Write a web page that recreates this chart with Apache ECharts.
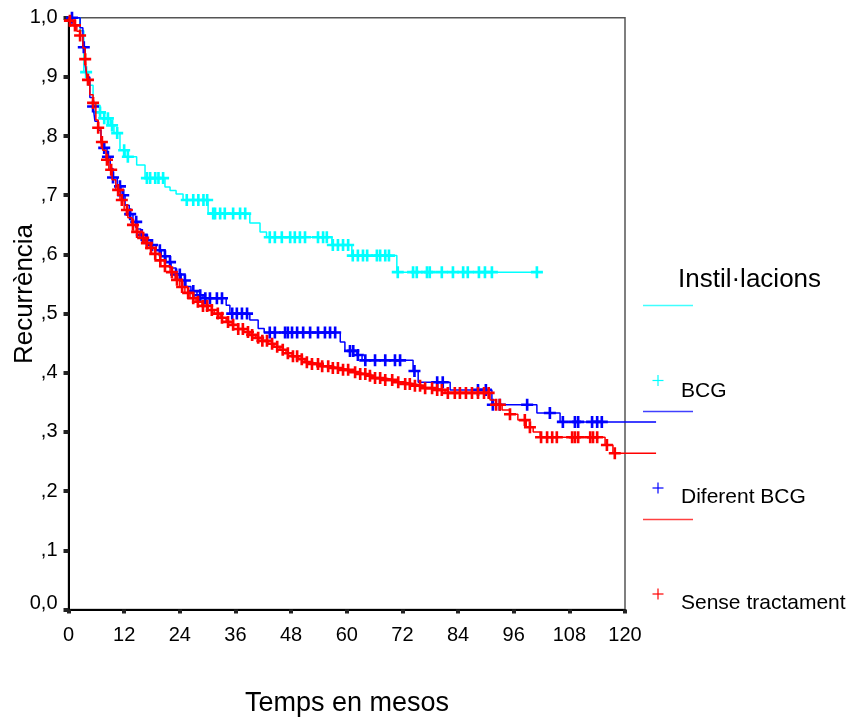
<!DOCTYPE html>
<html><head><meta charset="utf-8">
<script src="https://cdn.jsdelivr.net/npm/echarts/dist/echarts.min.js"></script>
<style>html,body{margin:0;padding:0;background:#fff}#c{width:854px;height:720px}</style>
</head><body><div id="c"></div>
<script>
// ---- Data (months, cumulative proportion) ----
const xTickValues = [0, 12, 24, 36, 48, 60, 72, 84, 96, 108, 120];
const seriesNames = ['BCG', 'Diferent BCG', 'Sense tractament'];
const legendTitle = 'Instil·lacions';

const bcgTime = [0, 2.5, 3.3, 4.2, 5.3, 6.8, 7.7, 9.0, 9.8, 11.1, 12.2, 14.7, 16.5, 20.8, 21.9, 23.2, 24.7, 30.1, 39.1, 41.3, 42.7, 56.8, 61.1, 70.8, 102.2];
const bcgSurv = [1.0, 0.978, 0.908, 0.886, 0.852, 0.84, 0.83, 0.818, 0.805, 0.776, 0.765, 0.751, 0.729, 0.714, 0.708, 0.702, 0.692, 0.669, 0.653, 0.638, 0.629, 0.616, 0.598, 0.57, 0.57];
const bcgCensored = [3.8, 6.8, 7.7, 8.5, 9.4, 10.5, 12.0, 12.8, 16.9, 17.6, 18.7, 19.4, 20.4, 25.5, 26.9, 28.0, 29.1, 29.9, 31.2, 31.6, 32.7, 33.7, 35.5, 37.0, 38.1, 43.4, 44.5, 46.0, 47.8, 48.8, 49.9, 51.0, 53.8, 54.9, 55.7, 57.0, 58.1, 59.2, 60.3, 61.3, 62.4, 63.5, 64.4, 66.5, 67.2, 68.3, 69.1, 71.0, 74.3, 75.1, 77.3, 77.9, 80.5, 82.9, 85.1, 86.1, 88.5, 89.8, 91.3, 101.0];

const difTime = [0, 2.5, 3.1, 3.6, 4.0, 4.6, 5.3, 5.7, 6.4, 7.0, 7.7, 8.3, 9.0, 9.6, 10.5, 11.3, 12.2, 13.1, 13.9, 14.8, 15.6, 16.7, 17.8, 18.9, 20.0, 21.0, 22.1, 23.2, 24.3, 25.3, 26.4, 27.7, 29.0, 34.0, 34.8, 39.1, 40.9, 42.2, 58.6, 59.6, 62.2, 63.3, 74.3, 75.4, 82.3, 91.3, 101.0, 106.0, 126.7];
const difSurv = [1, 0.983, 0.95, 0.92, 0.90, 0.865, 0.85, 0.825, 0.81, 0.79, 0.78, 0.765, 0.745, 0.73, 0.715, 0.70, 0.683, 0.668, 0.655, 0.643, 0.633, 0.624, 0.616, 0.607, 0.597, 0.587, 0.577, 0.566, 0.556, 0.546, 0.538, 0.531, 0.526, 0.514, 0.50, 0.489, 0.475, 0.468, 0.452, 0.437, 0.43, 0.421, 0.403, 0.384, 0.371, 0.346, 0.332, 0.317, 0.317];
const difCensored = [0.75, 3.3, 5.3, 7.7, 8.5, 9.6, 11.1, 11.8, 13.3, 14.6, 15.8, 16.9, 18.0, 19.7, 20.8, 21.9, 23.2, 24.0, 25.1, 26.9, 28.4, 29.5, 30.5, 32.0, 33.1, 35.3, 36.3, 37.4, 38.5, 43.4, 44.5, 46.7, 47.3, 48.2, 49.3, 50.6, 52.1, 53.8, 55.3, 56.4, 57.5, 60.7, 61.4, 62.4, 64.0, 66.1, 68.3, 70.4, 71.5, 74.6, 79.5, 80.7, 88.3, 90.0, 91.5, 93.0, 98.9, 103.8, 106.6, 109.2, 109.9, 112.9, 114.0, 115.0];

const noTime = [0, 0.3, 1.0, 1.8, 2.5, 3.1, 3.6, 4.0, 4.6, 5.3, 5.9, 6.4, 7.0, 7.4, 8.1, 8.7, 9.4, 10.2, 11.1, 12.0, 12.8, 13.7, 14.6, 15.4, 16.5, 17.6, 18.7, 19.7, 20.8, 21.9, 23.0, 24.0, 25.1, 26.2, 27.5, 28.8, 30.1, 31.4, 32.7, 34.0, 35.3, 36.6, 37.8, 39.1, 40.4, 41.7, 43.0, 44.3, 45.6, 46.9, 48.2, 49.5, 51.0, 52.5, 54.2, 56.4, 58.6, 60.7, 62.4, 64.2, 66.1, 68.3, 70.4, 72.6, 74.7, 76.9, 79.0, 81.2, 90.9, 92.2, 93.5, 95.2, 96.9, 98.7, 100.2, 101.7, 115.7, 117.4, 126.7];
const noSurv = [1, 0.995, 0.987, 0.977, 0.97, 0.949, 0.93, 0.895, 0.87, 0.856, 0.827, 0.814, 0.79, 0.776, 0.76, 0.743, 0.726, 0.709, 0.692, 0.675, 0.662, 0.65, 0.638, 0.628, 0.619, 0.611, 0.601, 0.59, 0.58, 0.57, 0.557, 0.545, 0.535, 0.526, 0.52, 0.513, 0.506, 0.5, 0.493, 0.486, 0.481, 0.474, 0.469, 0.464, 0.459, 0.454, 0.449, 0.444, 0.439, 0.433, 0.428, 0.423, 0.418, 0.415, 0.411, 0.408, 0.405, 0.401, 0.398, 0.395, 0.391, 0.388, 0.384, 0.381, 0.378, 0.374, 0.371, 0.366, 0.354, 0.346, 0.337, 0.33, 0.32, 0.308, 0.3, 0.291, 0.278, 0.264, 0.264];
const noCensored = [0.3, 1.4, 2.5, 3.6, 4.2, 5.3, 6.4, 7.2, 8.3, 9.2, 10.7, 11.5, 12.6, 13.9, 14.8, 16.1, 16.9, 17.8, 18.7, 19.8, 20.8, 22.3, 23.4, 24.5, 25.8, 26.9, 27.9, 29.0, 29.9, 30.9, 32.2, 33.1, 34.4, 35.5, 36.6, 37.6, 38.7, 39.6, 40.9, 41.8, 42.8, 43.9, 45.0, 46.2, 47.3, 48.4, 49.3, 50.3, 51.4, 52.5, 53.8, 54.7, 56.0, 57.0, 58.1, 59.2, 60.3, 61.8, 62.9, 64.0, 65.0, 66.1, 67.2, 68.3, 69.8, 71.1, 72.6, 73.6, 74.7, 75.8, 76.9, 78.4, 79.5, 80.5, 81.8, 83.3, 84.4, 85.7, 87.0, 88.3, 89.6, 90.6, 92.2, 93.0, 95.2, 98.4, 99.5, 101.9, 103.2, 104.3, 105.3, 108.6, 109.2, 109.9, 112.5, 113.1, 114.0, 116.1, 117.8];

// ---- helpers ----
function zip(t, s) { return t.map((v, i) => [v, s[i]]); }
function stepAt(t, s, x) { let v = s[0]; for (let i = 0; i < t.length; i++) { if (t[i] <= x) v = s[i]; else break; } return v; }
function censorPoints(t, s, c) { return c.map(x => [x, stepAt(t, s, x)]); }

const COLORS = ['#00ffff', '#0000ff', '#ff0000'];
const FONT = '"Liberation Sans", Arial, sans-serif';
const cross = 'path://M3.9,0H6.1V3.9H10V6.1H6.1V10H3.9V6.1H0V3.9H3.9Z';

// layout: plot frame spans 0..120 months; curves may run past the frame
const GL = 68.5, GT = 17.7, GB = 110.5, PX_PER_MONTH = 4.6375;
const X_MAX_FRAME = 120, X_MAX_DATA = 130;

const curves = [
  { t: bcgTime, s: bcgSurv, c: bcgCensored },
  { t: difTime, s: difSurv, c: difCensored },
  { t: noTime, s: noSurv, c: noCensored }
];

const series = [];
curves.forEach((cv, i) => {
  series.push({
    type: 'line', name: seriesNames[i], data: zip(cv.t, cv.s), step: 'end',
    xAxisIndex: 1, yAxisIndex: 1,
    symbol: 'none', clip: false, z: 2 + i * 2,
    lineStyle: { color: COLORS[i], width: 1.5 }
  });
  series.push({
    type: 'scatter', name: seriesNames[i] + ' censurat', data: censorPoints(cv.t, cv.s, cv.c),
    xAxisIndex: 1, yAxisIndex: 1,
    symbol: cross, symbolSize: 12, clip: false, z: 3 + i * 2,
    itemStyle: { color: COLORS[i], opacity: 1 }
  });
});

function plusMark(cx, cy, color) {
  return [
    { type: 'line', shape: { x1: cx - 5.5, y1: cy, x2: cx + 5.5, y2: cy }, style: { stroke: color, lineWidth: 1.2 } },
    { type: 'line', shape: { x1: cx, y1: cy - 5.5, x2: cx, y2: cy + 5.5 }, style: { stroke: color, lineWidth: 1.2 } }
  ];
}
const legendRows = [
  { lineY: 305.5, plusY: 380.5, textY: 391 },
  { lineY: 411.5, plusY: 488, textY: 497 },
  { lineY: 519.5, plusY: 594, textY: 603 }
];
const graphic = [
  { type: 'text', x: 678, y: 280, style: { text: legendTitle, font: '26px ' + FONT, fill: '#000', textVerticalAlign: 'middle' } },
  { type: 'text', x: 25, y: 294, rotation: Math.PI / 2, style: { text: 'Recurrència', font: '26px ' + FONT, fill: '#000', textAlign: 'center', textVerticalAlign: 'middle' } },
  { type: 'text', x: 347, y: 704, style: { text: 'Temps en mesos', font: '27px ' + FONT, fill: '#000', textAlign: 'center', textVerticalAlign: 'middle' } }
];
legendRows.forEach((r, i) => {
  graphic.push({ type: 'line', shape: { x1: 643, y1: r.lineY, x2: 693, y2: r.lineY }, style: { stroke: COLORS[i], lineWidth: 1.3, opacity: 0.75 } });
  plusMark(658, r.plusY, COLORS[i]).forEach(g => graphic.push(g));
  graphic.push({ type: 'text', x: 681, y: r.textY, style: { text: seriesNames[i], font: '21px ' + FONT, fill: '#000', textVerticalAlign: 'middle' } });
});

const chart = echarts.init(document.getElementById('c'), null, { renderer: 'canvas' });
chart.setOption({
  animation: false,
  backgroundColor: '#fff',
  grid: [
    { left: GL, width: X_MAX_FRAME * PX_PER_MONTH, top: GT, bottom: GB, show: true, borderColor: '#555', borderWidth: 1.5, backgroundColor: 'transparent' },
    { left: GL, width: X_MAX_DATA * PX_PER_MONTH, top: GT, bottom: GB, show: false }
  ],
  xAxis: [{
    type: 'value', gridIndex: 0, min: 0, max: X_MAX_FRAME, interval: 12,
    axisLine: { show: true, onZero: false, lineStyle: { color: '#000', width: 2 } },
    axisTick: { show: true, length: 4, lineStyle: { color: '#222', width: 4 } },
    axisLabel: { color: '#000', fontSize: 20, fontFamily: FONT, margin: 16, formatter: v => String(v) },
    splitLine: { show: false }
  }, {
    type: 'value', gridIndex: 1, min: 0, max: X_MAX_DATA, show: false, splitLine: { show: false }
  }],
  yAxis: [{
    type: 'value', gridIndex: 0, min: 0, max: 1, interval: 0.1,
    axisLine: { show: true, onZero: false, lineStyle: { color: '#000', width: 2 } },
    axisTick: { show: true, length: 5, lineStyle: { color: '#222', width: 4 } },
    axisLabel: {
      color: '#000', fontSize: 20, fontFamily: FONT, margin: 11,
      formatter: v => {
        const k = Math.round(v * 10);
        if (k === 10) return '1,0';
        if (k === 0) return '{z|0,0}';
        return ',' + k;
      },
      rich: { z: { fontSize: 20, fontFamily: FONT, color: '#000', padding: [0, 0, 12, 0] } }
    },
    splitLine: { show: false }
  }, {
    type: 'value', gridIndex: 1, min: 0, max: 1, show: false, splitLine: { show: false }
  }],
  graphic: graphic,
  series: series
});
</script>
</body></html>
